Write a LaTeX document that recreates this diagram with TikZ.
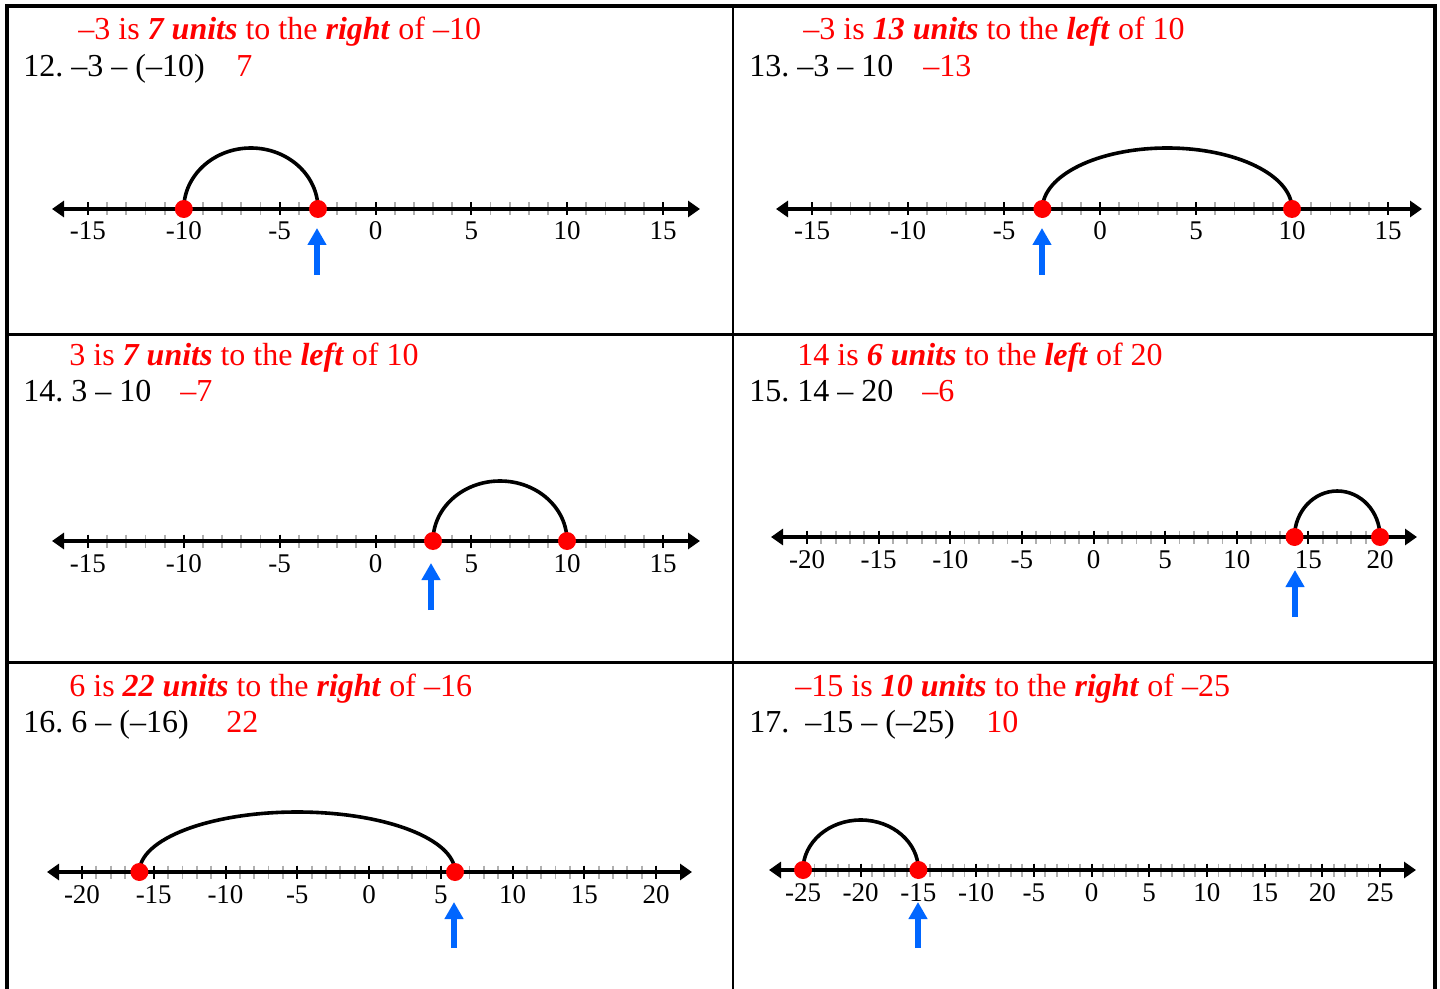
\documentclass[tikz,border=0pt]{standalone}
\usepackage{fontspec}
\setmainfont{Liberation Serif}
\usetikzlibrary{arrows.meta}
\frenchspacing
\definecolor{ansred}{RGB}{255,0,0}
\definecolor{ptrblue}{RGB}{0,102,255}
\definecolor{ticgray}{RGB}{175,175,175}
\tikzset{
  frameline/.style={line width=2pt,line cap=rect},
  gridline/.style={line width=1.4pt},
  axisline/.style={line width=1.8pt,arrows={Triangle[length=6pt,width=8pt]-Triangle[length=6pt,width=8pt]}},
  majortick/.style={line width=1pt,black},
  minortick/.style={line width=0.9pt,ticgray},
  ticklabel/.style={anchor=base,inner sep=0pt,font=\fontsize{13.5}{15}\selectfont},
  arcline/.style={line width=1.8pt,black},
  dotmark/.style={circle,fill=ansred,draw=none,inner sep=0pt,minimum size=9pt},
  pointer/.style={line width=3pt,ptrblue,arrows={-Triangle[length=8.5pt,width=9pt]}},
  titletext/.style={anchor=base west,inner sep=0pt,text=ansred,font=\fontsize{16}{19}\selectfont},
  probtext/.style={anchor=base west,inner sep=0pt,font=\fontsize{16}{19}\selectfont},
  anstext/.style={anchor=base west,inner sep=0pt,text=ansred,font=\fontsize{16}{19}\selectfont},
}
% #1 name, #2 zero x, #3 unit, #4 y, #5 major list, #6 min, #7 max, #8 left tip x, #9 right tip x
\newcommand\NumLine[9]{%
  \coordinate (#1L) at (#8,#4);
  \coordinate (#1R) at (#9,#4);
  \foreach \v in {#6,...,#7}{%
    \pgfmathsetmacro\xx{#2+\v*#3}
    \draw[minortick] (\xx,#4-6.5) -- (\xx,#4+6.5);
  }
  \draw[axisline] (#1L) -- (#1R);
  \foreach \v in {#5}{%
    \pgfmathsetmacro\xx{#2+\v*#3}
    \draw[majortick] (\xx,#4-6.5) -- (\xx,#4+6.5);
    \node[ticklabel] (#1lab\v) at (\xx,#4+31) {\v};
  }
}
% #1 start coord, #2 end coord, #3 x1, #4 x2, #5 y, #6 height
\newcommand\JumpArc[6]{%
  \pgfmathsetmacro\xm{(#3+#4)/2}
  \pgfmathsetmacro\hw{(#4-#3)/2}
  \draw[arcline] (#1) .. controls (#3,#5-0.5523*#6) and (\xm-0.5523*\hw,#5-#6) .. (\xm,#5-#6)
     .. controls (\xm+0.5523*\hw,#5-#6) and (#4,#5-0.5523*#6) .. (#2);
}
\begin{document}
\begin{tikzpicture}[x=0.5pt,y=-0.5pt]
\useasboundingbox (0,0) rectangle (1440,989);
\fill[white] (0,0) rectangle (1440,989);
% frame
\coordinate (fTL) at (7,6);
\coordinate (fTR) at (1435,6);
\coordinate (fBL) at (7,992);
\coordinate (fBR) at (1435,992);
\draw[frameline] (fBL) -- (fTL) -- (fTR) -- (fBR);
\coordinate (gV1) at (733,6);
\coordinate (gV2) at (733,992);
\coordinate (gH1a) at (7,334.5);
\coordinate (gH1b) at (1435,334.5);
\coordinate (gH2a) at (7,662.5);
\coordinate (gH2b) at (1435,662.5);
\draw[gridline] (gV1) -- (gV2);
\draw[gridline] (gH1a) -- (gH1b);
\draw[gridline] (gH2a) -- (gH2b);

% ---------- Panel 12 ----------
\node[titletext] (t12) at (78,40) {–3 is \textbf{\textit{7 units}} to the \textbf{\textit{right}} of –10};
\node[probtext] (q12) at (23,77) {12. –3 – (–10)};
\node[anstext] (a12) at (236,77) {7};
\NumLine{n12}{375.5}{19.17}{209}{-15,-10,...,15}{-15}{15}{52}{700}
\coordinate (p12a) at (183.8,209);
\coordinate (p12b) at (318,209);
\JumpArc{p12a}{p12b}{183.8}{318}{209}{61}
\node[dotmark] (d12a) at (p12a) {};
\node[dotmark] (d12b) at (p12b) {};
\coordinate (b12s) at (317,275);
\coordinate (b12e) at (317,228);
\draw[pointer] (b12s) -- (b12e);

% ---------- Panel 13 ----------
\node[titletext] (t13) at (803,40) {–3 is \textbf{\textit{13 units}} to the \textbf{\textit{left}} of 10};
\node[probtext] (q13) at (749,77) {13. –3 – 10};
\node[anstext] (a13) at (923,77) {–13};
\NumLine{n13}{1100}{19.2}{209}{-15,-10,...,15}{-15}{15}{776}{1422}
\coordinate (p13a) at (1042.4,209);
\coordinate (p13b) at (1292,209);
\JumpArc{p13a}{p13b}{1042.4}{1292}{209}{61}
\node[dotmark] (d13a) at (p13a) {};
\node[dotmark] (d13b) at (p13b) {};
\coordinate (b13s) at (1042,275);
\coordinate (b13e) at (1042,228);
\draw[pointer] (b13s) -- (b13e);

% ---------- Panel 14 ----------
\node[titletext] (t14) at (69,366) {3 is \textbf{\textit{7 units}} to the \textbf{\textit{left}} of 10};
\node[probtext] (q14) at (23,402) {14. 3 – 10};
\node[anstext] (a14) at (180,402) {–7};
\NumLine{n14}{375.5}{19.17}{541}{-15,-10,...,15}{-15}{15}{52}{700}
\coordinate (p14a) at (433,541);
\coordinate (p14b) at (567,541);
\JumpArc{p14a}{p14b}{433}{567}{541}{60}
\node[dotmark] (d14a) at (p14a) {};
\node[dotmark] (d14b) at (p14b) {};
\coordinate (b14s) at (431,610);
\coordinate (b14e) at (431,563);
\draw[pointer] (b14s) -- (b14e);

% ---------- Panel 15 ----------
\node[titletext] (t15) at (797,366) {14 is \textbf{\textit{6 units}} to the \textbf{\textit{left}} of 20};
\node[probtext] (q15) at (749,402) {15. 14 – 20};
\node[anstext] (a15) at (922,402) {–6};
\NumLine{n15}{1093.5}{14.325}{537}{-20,-15,...,20}{-20}{20}{771}{1417}
\coordinate (p15a) at (1294.5,537);
\coordinate (p15b) at (1380,537);
\JumpArc{p15a}{p15b}{1294.5}{1380}{537}{46}
\node[dotmark] (d15a) at (p15a) {};
\node[dotmark] (d15b) at (p15b) {};
\coordinate (b15s) at (1295,617);
\coordinate (b15e) at (1295,570);
\draw[pointer] (b15s) -- (b15e);

% ---------- Panel 16 ----------
\node[titletext] (t16) at (69,696) {6 is \textbf{\textit{22 units}} to the \textbf{\textit{right}} of –16};
\node[probtext] (q16) at (23,732) {16. 6 – (–16)};
\node[anstext] (a16) at (226,732) {22};
\NumLine{n16}{369}{14.35}{872}{-20,-15,...,20}{-20}{20}{47}{692}
\coordinate (p16a) at (139.4,872);
\coordinate (p16b) at (455,872);
\JumpArc{p16a}{p16b}{139.4}{455}{872}{60}
\node[dotmark] (d16a) at (p16a) {};
\node[dotmark] (d16b) at (p16b) {};
\coordinate (b16s) at (454,948);
\coordinate (b16e) at (454,902);
\draw[pointer] (b16s) -- (b16e);

% ---------- Panel 17 ----------
\node[titletext] (t17) at (795,696) {–15 is \textbf{\textit{10 units}} to the \textbf{\textit{right}} of –25};
\node[probtext] (q17) at (749,732) {17.\ \ –15 – (–25)};
\node[anstext] (a17) at (986,732) {10};
\NumLine{n17}{1091.5}{11.54}{870}{-25,-20,...,25}{-25}{25}{769}{1416}
\coordinate (p17a) at (803,870);
\coordinate (p17b) at (918.4,870);
\JumpArc{p17a}{p17b}{803}{918.4}{870}{50}
\node[dotmark] (d17a) at (p17a) {};
\node[dotmark] (d17b) at (p17b) {};
\coordinate (b17s) at (918,948);
\coordinate (b17e) at (918,902);
\draw[pointer] (b17s) -- (b17e);
\end{tikzpicture}
\end{document}
